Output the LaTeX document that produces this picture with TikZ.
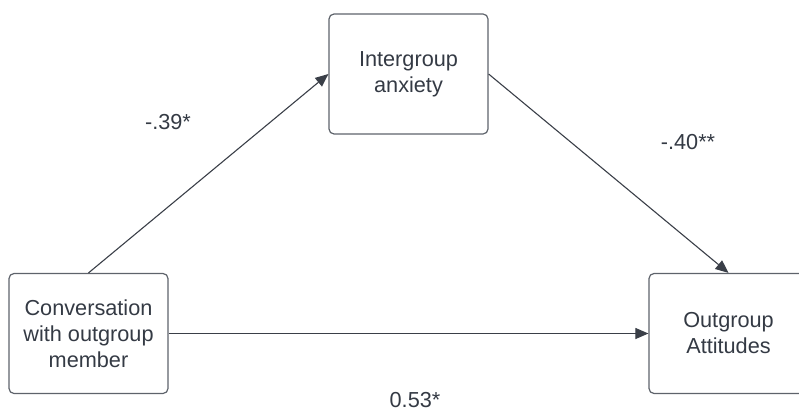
\documentclass[tikz,border=0pt]{standalone}
\usepackage{fontspec}
\setmainfont{Liberation Sans}
\usetikzlibrary{arrows.meta}
\definecolor{boxline}{HTML}{5E636B}
\definecolor{txt}{HTML}{343A44}
\definecolor{arrowc}{HTML}{3A3F48}
\begin{document}
\begin{tikzpicture}[x=1pt,y=-1pt,
  box/.style={draw=boxline,line width=1.2pt,rounded corners=5pt,minimum width=159pt,minimum height=120pt,inner sep=0pt,
    text=txt,align=center,font=\fontsize{21.7pt}{26pt}\selectfont},
  conn/.style={draw=arrowc,line width=1.1pt,-{Triangle[length=13pt,width=11pt]}},
  lbl/.style={text=txt,font=\fontsize{21.7pt}{26pt}\selectfont,inner sep=0pt}]
\useasboundingbox (0,0) rectangle (799,412);
\node[box] (anx) at (408.5,74) {Intergroup\\anxiety};
\node[box] (conv) at (88.5,333.5) {Conversation\\with outgroup\\member};
\node[box] (att) at (728.5,333.5) {Outgroup\\Attitudes};
\draw[conn] (conv.north) -- (anx.west);
\draw[conn] (anx.east) -- (att.north);
\draw[conn] (conv.east) -- (att.west);
\node[lbl] (l1) at (168,122) {-.39*};
\node[lbl] (l2) at (688,142) {-.40**};
\node[lbl,anchor=base,text depth=0pt] (l3) at (415,407) {0.53*};
\end{tikzpicture}
\end{document}
